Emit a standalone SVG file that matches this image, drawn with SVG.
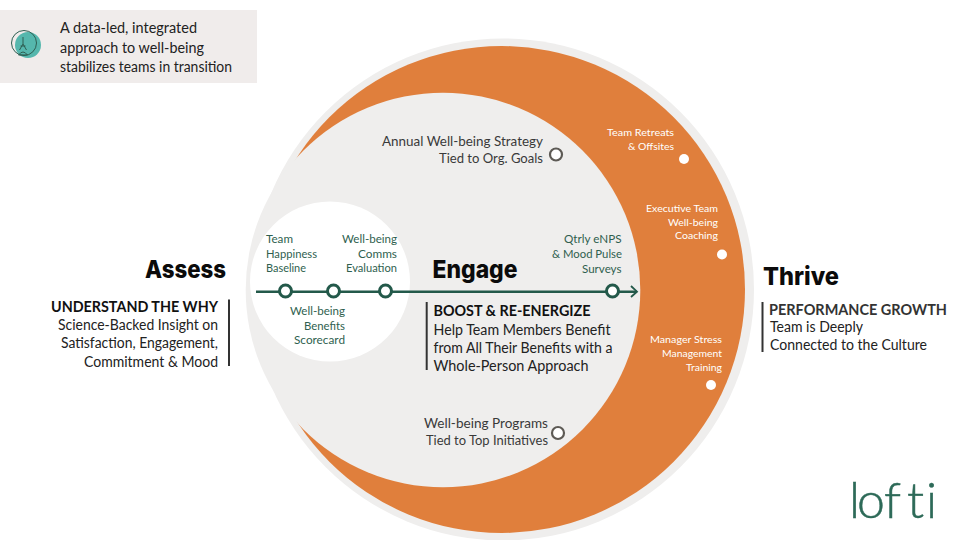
<svg xmlns="http://www.w3.org/2000/svg" width="960" height="540" viewBox="0 0 960 540">
<style>
text{font-family:"Lato","Liberation Sans",sans-serif;}
.h{font-family:"Inter","Lato",sans-serif;font-size:25px;font-weight:800;fill:#0b0b0b}
.b{font-size:14.5px;fill:#222}
.s{font-size:14.5px;font-weight:700;fill:#111}
.g{font-size:11.3px;fill:#2f5f4f}
.w{font-size:10.2px;fill:#fff}
.d{font-size:13.5px;fill:#3a3a3a}
.bar{stroke:#333;stroke-width:2;fill:none}
.n{fill:#fff;stroke:#23594a;stroke-width:3}
.o{fill:#fff;stroke:#5d5a55;stroke-width:2.2}
</style>
<rect width="960" height="540" fill="#fff"/>
<g id="callout">
<rect x="0" y="10" width="257" height="73" fill="#f0eceb"/>
<circle cx="28" cy="45" r="13" fill="#55b7ad"/>
<circle cx="24" cy="43" r="12.5" fill="none" stroke="#2e5e52" stroke-width="1"/>
<path d="M23 37V44M20.5 46H25.5M19.5 50L23 44L26.5 50M18.5 55Q23 49 27.5 55Z" fill="none" stroke="#2e5e52" stroke-width="1"/>
<text class="b" x="60" y="33" textLength="137" lengthAdjust="spacingAndGlyphs">A data-led, integrated</text>
<text class="b" x="60" y="53" textLength="144" lengthAdjust="spacingAndGlyphs">approach to well-being</text>
<text class="b" x="60" y="72" textLength="172" lengthAdjust="spacingAndGlyphs">stabilizes teams in transition</text>
</g>
<g id="rings">
<circle cx="503" cy="289.5" r="251" fill="#efeeed"/>
<circle cx="501.5" cy="289.5" r="243.5" fill="#e07f3c"/>
<circle cx="443" cy="290" r="197.3" fill="#efeeed"/>
<circle cx="330" cy="281.5" r="80" fill="#fff"/>
</g>
<g id="connectors">
<path d="M256 291.7H637" stroke="#23594a" stroke-width="2.5" fill="none"/>
<path d="M631 286L637 291.7L631 297" stroke="#23594a" stroke-width="1.8" fill="none"/>
</g>
<g id="assess">
<text class="h" x="145" y="278" textLength="81" lengthAdjust="spacingAndGlyphs">Assess</text>
<text class="s" x="51" y="312" textLength="167" lengthAdjust="spacingAndGlyphs">UNDERSTAND THE WHY</text>
<text class="b" x="58" y="330" textLength="160" lengthAdjust="spacingAndGlyphs">Science-Backed Insight on</text>
<text class="b" x="61" y="348" textLength="157" lengthAdjust="spacingAndGlyphs">Satisfaction, Engagement,</text>
<text class="b" x="84" y="367" textLength="134" lengthAdjust="spacingAndGlyphs">Commitment &amp; Mood</text>
<path class="bar" d="M229 299.5V366"/>
</g>
<g id="engage">
<text class="h" x="432.5" y="278" textLength="85" lengthAdjust="spacingAndGlyphs">Engage</text>
<text class="s" x="433.5" y="316" textLength="157" lengthAdjust="spacingAndGlyphs">BOOST &amp; RE-ENERGIZE</text>
<text class="b" x="433.5" y="335" textLength="177" lengthAdjust="spacingAndGlyphs">Help Team Members Benefit</text>
<text class="b" x="433.5" y="353" textLength="179" lengthAdjust="spacingAndGlyphs">from All Their Benefits with a</text>
<text class="b" x="433.5" y="371" textLength="155" lengthAdjust="spacingAndGlyphs">Whole-Person Approach</text>
<path class="bar" d="M426.7 302V370"/>
</g>
<g id="thrive">
<text class="h" x="763" y="285" textLength="76" lengthAdjust="spacingAndGlyphs">Thrive</text>
<text class="s" x="769" y="314.5" textLength="178" lengthAdjust="spacingAndGlyphs" style="fill:#333">PERFORMANCE GROWTH</text>
<text class="b" x="770" y="332" textLength="93" lengthAdjust="spacingAndGlyphs">Team is Deeply</text>
<text class="b" x="770" y="350" textLength="157" lengthAdjust="spacingAndGlyphs">Connected to the Culture</text>
<path class="bar" d="M762.5 302V352"/>
</g>
<g id="node-happiness">
<circle class="n" cx="285.5" cy="291" r="6"/>
<text class="g" x="266" y="243" textLength="27" lengthAdjust="spacingAndGlyphs">Team</text><text class="g" x="266" y="258" textLength="51" lengthAdjust="spacingAndGlyphs">Happiness</text><text class="g" x="266" y="272" textLength="40" lengthAdjust="spacingAndGlyphs">Baseline</text>
</g>
<g id="node-scorecard">
<circle class="n" cx="333.5" cy="291" r="6"/>
<text class="g" x="290" y="315" textLength="55" lengthAdjust="spacingAndGlyphs">Well-being</text><text class="g" x="304" y="330" textLength="41" lengthAdjust="spacingAndGlyphs">Benefits</text><text class="g" x="294" y="344" textLength="51" lengthAdjust="spacingAndGlyphs">Scorecard</text>
</g>
<g id="node-comms">
<circle class="n" cx="385.5" cy="291" r="6"/>
<text class="g" x="342" y="243" textLength="55" lengthAdjust="spacingAndGlyphs">Well-being</text><text class="g" x="358" y="258" textLength="39" lengthAdjust="spacingAndGlyphs">Comms</text><text class="g" x="346" y="272" textLength="51" lengthAdjust="spacingAndGlyphs">Evaluation</text>
</g>
<g id="node-enps">
<circle class="n" cx="612.5" cy="291" r="6"/>
<text class="g" x="564" y="243" textLength="57.5" lengthAdjust="spacingAndGlyphs">Qtrly eNPS</text><text class="g" x="552" y="258" textLength="70" lengthAdjust="spacingAndGlyphs">&amp; Mood Pulse</text><text class="g" x="582" y="273" textLength="39.5" lengthAdjust="spacingAndGlyphs">Surveys</text>
</g>
<g id="node-strategy">
<circle class="o" cx="556" cy="154.5" r="6"/>
<text class="d" x="382" y="146" textLength="161" lengthAdjust="spacingAndGlyphs">Annual Well-being Strategy</text><text class="d" x="439" y="163" textLength="104" lengthAdjust="spacingAndGlyphs">Tied to Org. Goals</text>
</g>
<g id="node-programs">
<circle class="o" cx="558" cy="433" r="6"/>
<text class="d" x="424" y="428" textLength="124" lengthAdjust="spacingAndGlyphs">Well-being Programs</text><text class="d" x="426" y="445" textLength="122" lengthAdjust="spacingAndGlyphs">Tied to Top Initiatives</text>
</g>
<g id="node-retreats">
<circle cx="684" cy="159" r="5" fill="#fff"/>
<text class="w" x="607" y="136" textLength="67" lengthAdjust="spacingAndGlyphs">Team Retreats</text><text class="w" x="628" y="150" textLength="46" lengthAdjust="spacingAndGlyphs">&amp; Offsites</text>
</g>
<g id="node-coaching">
<circle cx="722" cy="254.5" r="5" fill="#fff"/>
<text class="w" x="646" y="212" textLength="72" lengthAdjust="spacingAndGlyphs">Executive Team</text><text class="w" x="668" y="226" textLength="50" lengthAdjust="spacingAndGlyphs">Well-being</text><text class="w" x="675" y="239" textLength="43" lengthAdjust="spacingAndGlyphs">Coaching</text>
</g>
<g id="node-training">
<circle cx="711" cy="385" r="5" fill="#fff"/>
<text class="w" x="650" y="343" textLength="72" lengthAdjust="spacingAndGlyphs">Manager Stress</text><text class="w" x="662" y="357" textLength="60" lengthAdjust="spacingAndGlyphs">Management</text><text class="w" x="686" y="370.5" textLength="36" lengthAdjust="spacingAndGlyphs">Training</text>
</g>
<g id="logo"><text x="849 857 884 907 926" y="518" font-size="50" font-weight="300" fill="#2d6a58" stroke="#2d6a58" stroke-width="0.5">lofti</text></g>
</svg>
